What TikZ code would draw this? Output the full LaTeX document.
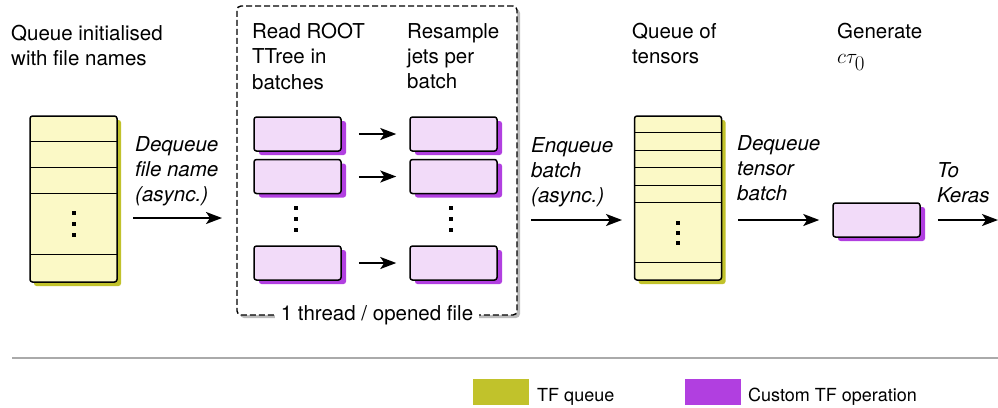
\documentclass[tikz,border=0pt]{standalone}
\usepackage{fix-cm}
\usepackage{fontspec}
\setmainfont{TeX Gyre Heros}
\usetikzlibrary{arrows.meta,shadows,calc}
\definecolor{qfill}{HTML}{FBF9C6}
\definecolor{qshadow}{HTML}{C1C22B}
\definecolor{pfill}{HTML}{F2DBF9}
\definecolor{pshadow}{HTML}{B13FE0}
\definecolor{sepgray}{HTML}{AAAAAA}
\definecolor{boxshadow}{HTML}{BBBBBB}
\begin{document}
\begin{tikzpicture}[x=1pt,y=-1pt,
  txt/.style={font=\fontsize{20.5}{25.3}\selectfont, align=left, inner sep=0pt, anchor=north west},
  itxt/.style={txt, font=\fontsize{20.5}{25.3}\selectfont\itshape},
  legtxt/.style={font=\fontsize{18}{22}\selectfont, inner sep=0pt, anchor=base west},
  qbox/.style={draw, line width=1.5pt, rounded corners=2.5pt, fill=qfill, minimum width=87pt, inner sep=0pt,
    general shadow={fill=qshadow, shadow xshift=4pt, shadow yshift=-4pt}},
  pbox/.style={draw, line width=1.5pt, rounded corners=2.5pt, fill=pfill, minimum width=87pt, minimum height=34pt, inner sep=0pt,
    general shadow={fill=pshadow, shadow xshift=5pt, shadow yshift=-4pt}},
  rowline/.style={line width=1.5pt},
  arr/.style={line width=2pt, -{Stealth[length=16pt,width=12pt,inset=4pt]}},
  dot/.style={fill=black},
]
\useasboundingbox (0,0) rectangle (998,407);

% dashed thread box
\node[draw, dashed, dash pattern=on 6pt off 3pt, line width=1.4pt, rounded corners=4pt, minimum width=280pt, minimum height=309pt, inner sep=0pt,
  general shadow={fill=boxshadow, shadow xshift=3pt, shadow yshift=-3pt}, fill=white] (db) at (377,160.5) {};
\node[font=\fontsize{20.5}{25}\selectfont, fill=white, inner xsep=6pt, inner ysep=0pt] (dblab) at (db.south) {1 thread / opened file};

% left queue
\node[qbox, minimum height=166pt] (q1) at (73.5,199) {};
\foreach \o in {26,52,78,139}
  \draw[rowline] ($(q1.north west)+(0.75,\o)$) -- ($(q1.north east)+(-0.75,\o)$);
\foreach \yy in {213,224,235}
  \fill[dot] (71.5,\yy-2) rectangle +(4,4);

% right queue
\node[qbox, minimum height=164pt] (q2) at (678,198) {};
\foreach \o in {17,35,52,70,87,147}
  \draw[rowline] ($(q2.north west)+(0.75,\o)$) -- ($(q2.north east)+(-0.75,\o)$);
\foreach \yy in {223,233,243}
  \fill[dot] (676,\yy-2) rectangle +(4,4);

% purple boxes
\node[pbox] (r1) at (297.5,134) {};
\node[pbox] (r2) at (297.5,176.5) {};
\node[pbox] (r3) at (297.5,263) {};
\node[pbox] (s1) at (453.5,134) {};
\node[pbox] (s2) at (453.5,176.5) {};
\node[pbox] (s3) at (453.5,263) {};
\node[pbox] (g) at (876.5,220) {};
\foreach \yy in {208,219,230} {
  \fill[dot] (294,\yy-2) rectangle +(4,4);
  \fill[dot] (449,\yy-2) rectangle +(4,4);
}

% arrows
\coordinate (a1s) at (133,218);
\coordinate (a1e) at (222,218);
\draw[arr] (a1s) -- (a1e);
\draw[arr, shorten <=17pt, shorten >=13pt] (r1.east) -- (s1.west);
\draw[arr, shorten <=17pt, shorten >=13pt] (r2.east) -- (s2.west);
\draw[arr, shorten <=17pt, shorten >=13pt] (r3.east) -- (s3.west);
\coordinate (a2s) at (531,220);
\coordinate (a2e) at (622,220);
\draw[arr] (a2s) -- (a2e);
\coordinate (a3s) at (738,220);
\draw[arr, shorten >=13pt] (a3s) -- (g.west);
\coordinate (keras) at (998,220);
\draw[arr, shorten <=17pt] (g.east) -- (keras);

% labels
\node[txt] (t1) at (11,25) {Queue initialised\\with file names};
\node[itxt] (t2) at (135,136) {Dequeue\\file name\\(async.)};
\node[txt] (t3) at (252,23) {Read ROOT\\TTree in\\batches};
\node[txt] (t4) at (407,23) {Resample\\jets per\\batch};
\node[itxt] (t5) at (531,137) {Enqueue\\batch\\(async.)};
\node[txt] (t6) at (632,23) {Queue of\\tensors};
\node[itxt] (t7) at (737,135) {Dequeue\\tensor\\batch};
\node[txt] (t8) at (837,23) {Generate\\{\fontsize{21}{25.3}\selectfont$c\tau_{\textstyle 0}$}};
\node[itxt] (t9) at (937,162) {To\\Keras};

% separator
\coordinate (sepl) at (12,358);
\coordinate (sepr) at (998,358);
\draw[sepgray, line width=1.5pt] (sepl) -- (sepr);

% legend
\node[fill=qshadow, minimum width=56pt, minimum height=26pt, inner sep=0pt] (lq) at (501,392) {};
\node[legtxt] (lqt) at (537,401) {TF queue};
\node[fill=pshadow, minimum width=56pt, minimum height=26pt, inner sep=0pt] (lp) at (713,392) {};
\node[legtxt] (lpt) at (748,401) {Custom TF operation};
\end{tikzpicture}
\end{document}
